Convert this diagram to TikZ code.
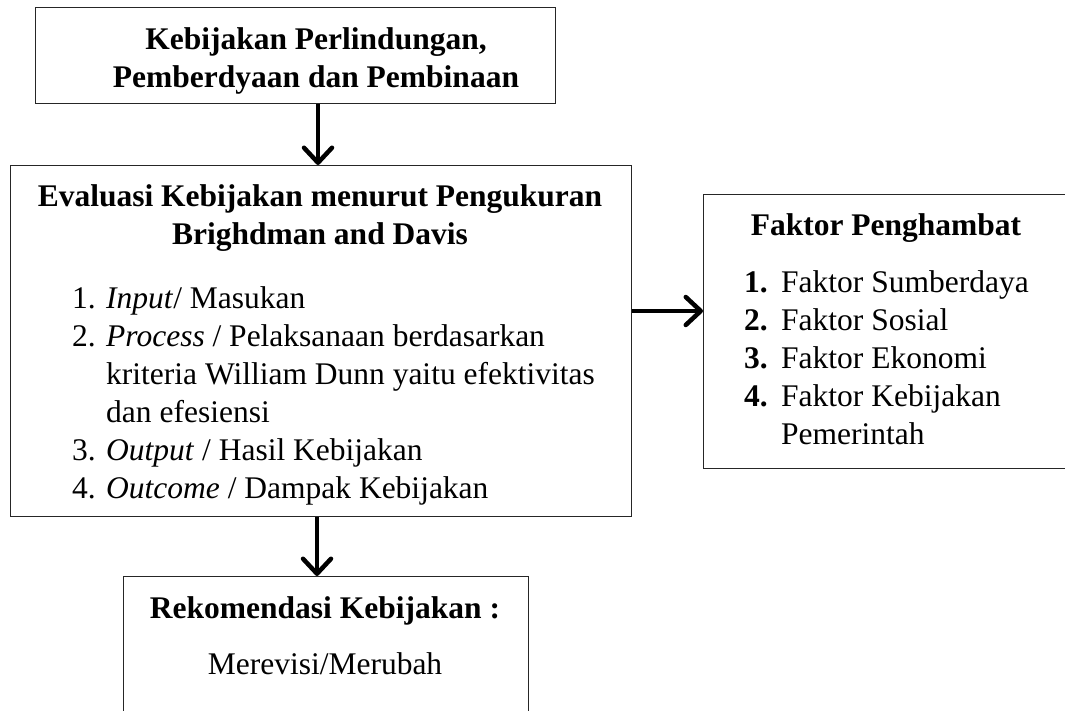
\documentclass[tikz,border=0pt]{standalone}
\usepackage{fontspec}
\setmainfont{Liberation Serif}
\usetikzlibrary{arrows.meta}
\begin{document}
\begin{tikzpicture}[x=1pt,y=-1pt,
  box/.style={draw=black!85, line width=1.3pt, rectangle, inner sep=0pt, anchor=north west},
  txt/.style={anchor=base, inner sep=0pt, font=\fontsize{31.5}{38}\selectfont},
  btxt/.style={anchor=base, inner sep=0pt, font=\fontsize{31.5}{38}\selectfont\bfseries},
  ltxt/.style={anchor=base west, inner sep=0pt, font=\fontsize{31.5}{38}\selectfont},
  lbtxt/.style={anchor=base west, inner sep=0pt, font=\fontsize{31.5}{38}\selectfont\bfseries},
  conn/.style={line width=4.5pt, -{Straight Barb[length=15pt,width=28pt,line width=4.5pt,round]}}]
\clip (0,0) rectangle (1065,711);
\fill[white] (0,0) rectangle (1065,711);
% boxes
\node[box, minimum width=520pt, minimum height=96pt] (top) at (35,7) {};
\node[box, minimum width=621pt, minimum height=351pt] (main) at (10,165) {};
\node[box, minimum width=420pt, minimum height=274pt] (right) at (703,194) {};
\node[box, minimum width=405pt, minimum height=220pt] (bottom) at (123,576) {};
% top text
\node[btxt] (t1) at (316,50) {Kebijakan Perlindungan,};
\node[btxt] (t2) at (316,88) {Pemberdyaan dan Pembinaan};
% main text
\node[btxt] (m1) at (320,207) {Evaluasi Kebijakan menurut Pengukuran};
\node[btxt] (m2) at (320,245) {Brighdman and Davis};
\node[ltxt] (n1) at (72,308) {1.};
\node[ltxt] (l1) at (106,308) {\textit{Input}/ Masukan};
\node[ltxt] (n2) at (72,346) {2.};
\node[ltxt] (l2) at (106,346) {\textit{Process} / Pelaksanaan berdasarkan};
\node[ltxt] (l2b) at (106,384) {kriteria William Dunn yaitu efektivitas};
\node[ltxt] (l2c) at (106,422) {dan efesiensi};
\node[ltxt] (n3) at (72,460) {3.};
\node[ltxt] (l3) at (106,460) {\textit{Output} / Hasil Kebijakan};
\node[ltxt] (n4) at (72,498) {4.};
\node[ltxt] (l4) at (106,498) {\textit{Outcome} / Dampak Kebijakan};
% right text
\node[btxt] (r0) at (886,236) {Faktor Penghambat};
\node[lbtxt] (rn1) at (744,292) {1.};
\node[ltxt] (r1) at (781,292) {Faktor Sumberdaya};
\node[lbtxt] (rn2) at (744,330) {2.};
\node[ltxt] (r2) at (781,330) {Faktor Sosial};
\node[lbtxt] (rn3) at (744,368) {3.};
\node[ltxt] (r3) at (781,368) {Faktor Ekonomi};
\node[lbtxt] (rn4) at (744,406) {4.};
\node[ltxt] (r4) at (781,406) {Faktor Kebijakan};
\node[ltxt] (r5) at (781,444) {Pemerintah};
% bottom text
\node[btxt] (b1) at (325,618) {Rekomendasi Kebijakan :};
\node[txt] (b2) at (325,674) {Merevisi/Merubah};
% connectors
\coordinate (x1) at (318,0);
\coordinate (y2) at (0,311);
\coordinate (x3) at (317,0);
\draw[conn] (x1 |- top.south) -- (x1 |- main.north);
\draw[conn] (main.east |- y2) -- (right.west |- y2);
\draw[conn] (x3 |- main.south) -- (x3 |- bottom.north);
\end{tikzpicture}
\end{document}
